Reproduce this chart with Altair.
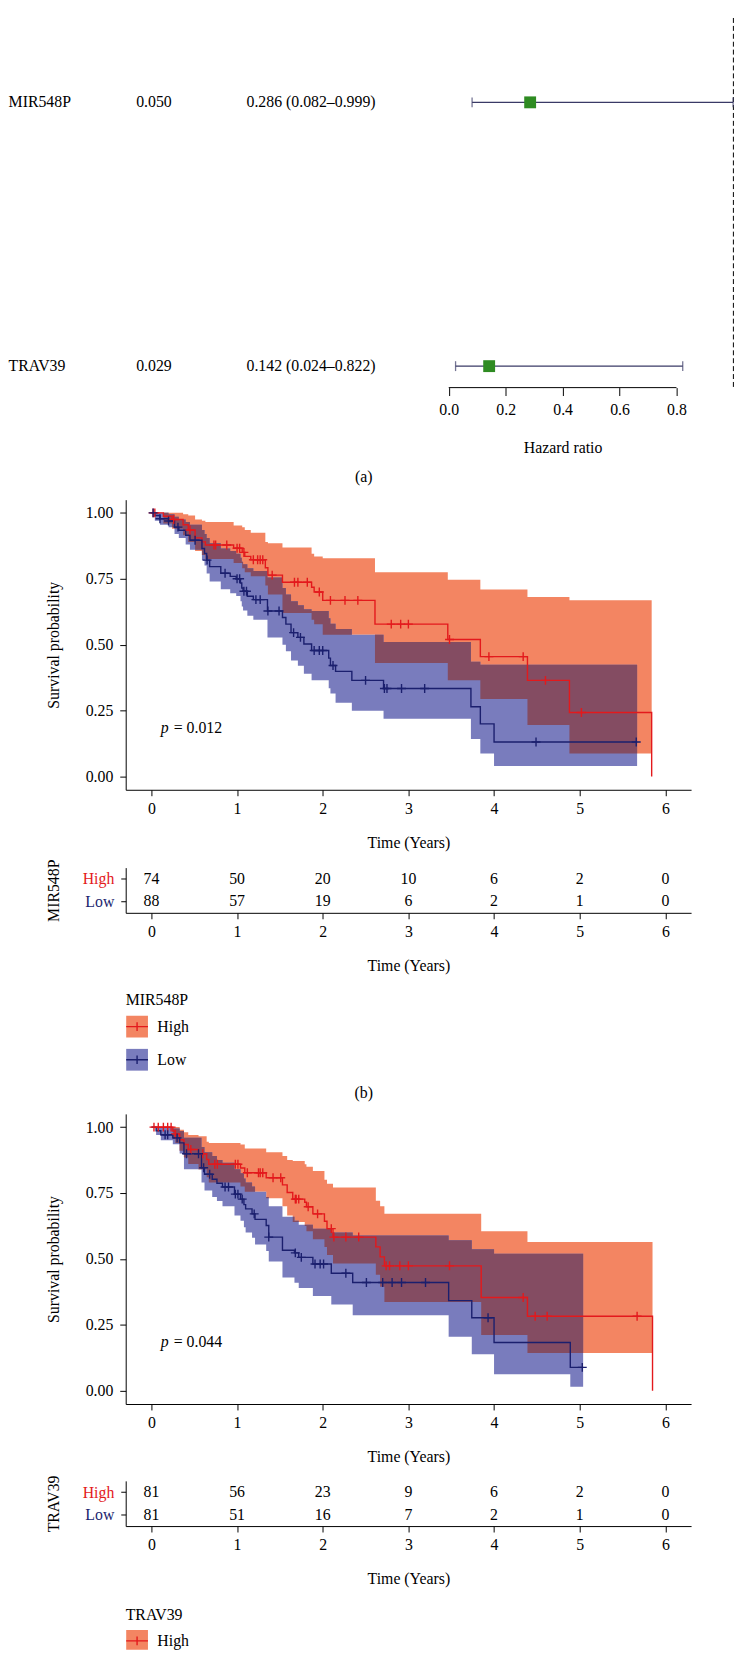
import altair as alt
import pandas as pd

FONT = "Liberation Serif"
RED = "#E3191C"
NAVY = "#1B1F6E"
ORANGE = "#F38562"
BLUE = "#797CBD"
MAROON = "#844C62"
GREEN = "#2E8B22"
CI_LINE = "#3A3A66"
CROSS = "M-1,0L1,0M0,-1L0,1"
KEY = "M-1,0L1,0M0,-0.4L0,0.4"

# ---------------- forest plot data ----------------
genes = ["MIR548P", "TRAV39"]
rows = [0, 1]
pvals = ["0.050", "0.029"]
hr = [0.286, 0.142]
hr_lo = [0.082, 0.024]
hr_hi = [0.999, 0.822]
hr_text = ["0.286 (0.082\u20130.999)", "0.142 (0.024\u20130.822)"]
hr_ticks = [0.0, 0.2, 0.4, 0.6, 0.8]
ref_line = [1.0]

# ---------------- KM data: MIR548P ----------------
b_high_t = [0, 0.14, 0.24, 0.37, 0.43, 0.51, 0.59, 0.63, 0.96, 1.06, 1.09, 1.16, 1.33, 1.36, 1.53, 1.87, 1.90, 2.00, 2.61, 3.46, 3.84, 4.39, 4.88, 5.84]
b_high_s = [1.0, 0.987, 0.975, 0.955, 0.935, 0.905, 0.890, 0.878, 0.866, 0.850, 0.835, 0.822, 0.792, 0.764, 0.737, 0.718, 0.700, 0.668, 0.578, 0.520, 0.455, 0.365, 0.243, 0.0]
b_high_hi = [1.0, 1.0, 1.0, 0.995, 0.99, 0.975, 0.97, 0.965, 0.952, 0.945, 0.935, 0.925, 0.89, 0.885, 0.869, 0.845, 0.835, 0.828, 0.775, 0.746, 0.709, 0.681, 0.669, 0.669]
b_high_lo = [1.0, 0.96, 0.94, 0.915, 0.89, 0.855, 0.84, 0.825, 0.81, 0.79, 0.775, 0.76, 0.725, 0.69, 0.62, 0.595, 0.578, 0.538, 0.431, 0.365, 0.294, 0.196, 0.088, 0.088]

b_low_t = [0, 0.04, 0.10, 0.20, 0.27, 0.32, 0.40, 0.45, 0.59, 0.62, 0.645, 0.68, 0.81, 0.92, 0.99, 1.04, 1.055, 1.07, 1.12, 1.19, 1.355, 1.53, 1.57, 1.63, 1.71, 1.78, 1.87, 2.07, 2.09, 2.15, 2.34, 2.71, 3.73, 3.84, 4.00, 5.67]
b_low_s = [1.0, 0.99, 0.9775, 0.969, 0.946, 0.934, 0.915, 0.896, 0.865, 0.846, 0.821, 0.796, 0.771, 0.759, 0.750, 0.734, 0.715, 0.703, 0.684, 0.671, 0.628, 0.603, 0.578, 0.546, 0.528, 0.503, 0.478, 0.449, 0.421, 0.399, 0.365, 0.334, 0.265, 0.200, 0.131, 0.131]
b_low_hi = [1.0, 1.0, 1.0, 0.995, 0.985, 0.975, 0.965, 0.955, 0.935, 0.92, 0.905, 0.885, 0.865, 0.855, 0.845, 0.83, 0.815, 0.805, 0.79, 0.78, 0.755, 0.715, 0.69, 0.665, 0.65, 0.635, 0.6275, 0.60, 0.58, 0.56, 0.5375, 0.51, 0.435, 0.424, 0.424, 0.424]
b_low_lo = [1.0, 0.97, 0.955, 0.945, 0.92, 0.905, 0.88, 0.86, 0.82, 0.80, 0.77, 0.74, 0.71, 0.695, 0.685, 0.665, 0.645, 0.63, 0.61, 0.595, 0.5275, 0.50, 0.475, 0.44, 0.42, 0.39, 0.365, 0.335, 0.315, 0.28, 0.25, 0.219, 0.1425, 0.0875, 0.04, 0.04]

b_cens_high_t = [0.02, 0.04, 0.26, 0.45, 0.73, 0.75, 0.88, 1.00, 1.03, 1.08, 1.19, 1.24, 1.27, 1.30, 1.41, 1.67, 1.71, 1.82, 1.96, 2.09, 2.26, 2.41, 2.80, 2.91, 3.00, 3.48, 3.94, 4.34, 4.60, 5.02]
b_cens_high_s = [1.0, 1.0, 0.975, 0.935, 0.878, 0.878, 0.878, 0.866, 0.866, 0.850, 0.822, 0.822, 0.822, 0.822, 0.764, 0.737, 0.737, 0.737, 0.700, 0.668, 0.668, 0.668, 0.578, 0.578, 0.578, 0.520, 0.455, 0.455, 0.365, 0.243]
b_cens_low_t = [0.02, 0.10, 0.20, 0.31, 0.51, 0.65, 0.86, 1.00, 1.03, 1.08, 1.11, 1.22, 1.27, 1.36, 1.49, 1.66, 1.74, 1.90, 1.96, 2.00, 2.12, 2.50, 2.72, 2.75, 2.92, 3.19, 4.49, 5.66]
b_cens_low_s = [1.0, 0.9775, 0.969, 0.946, 0.896, 0.821, 0.771, 0.750, 0.750, 0.703, 0.703, 0.671, 0.671, 0.628, 0.628, 0.546, 0.528, 0.478, 0.478, 0.478, 0.421, 0.365, 0.334, 0.334, 0.334, 0.334, 0.131, 0.131]

# ---------------- KM data: TRAV39 ----------------
c_high_t = [0, 0.25, 0.28, 0.33, 0.38, 0.43, 0.55, 0.645, 0.67, 1.04, 1.09, 1.34, 1.53, 1.585, 1.65, 1.79, 1.81, 1.885, 2.02, 2.05, 2.12, 2.62, 2.67, 2.72, 3.85, 4.39, 5.85]
c_high_s = [1.0, 0.985, 0.974, 0.952, 0.934, 0.915, 0.899, 0.877, 0.859, 0.845, 0.827, 0.808, 0.781, 0.752, 0.727, 0.715, 0.698, 0.671, 0.643, 0.615, 0.583, 0.546, 0.508, 0.474, 0.354, 0.283, 0.0]
c_high_hi = [1.0, 1.0, 1.0, 0.99, 0.98, 0.97, 0.965, 0.944, 0.94, 0.934, 0.919, 0.905, 0.89, 0.875, 0.871, 0.859, 0.85, 0.834, 0.80, 0.785, 0.771, 0.721, 0.70, 0.671, 0.605, 0.564, 0.564]
c_high_lo = [1.0, 0.955, 0.94, 0.91, 0.885, 0.86, 0.84, 0.81, 0.79, 0.775, 0.755, 0.73, 0.70, 0.665, 0.64, 0.625, 0.605, 0.575, 0.545, 0.515, 0.483, 0.44, 0.395, 0.337, 0.212, 0.143, 0.143]

c_low_t = [0, 0.055, 0.11, 0.25, 0.33, 0.38, 0.585, 0.62, 0.71, 0.765, 0.83, 0.97, 1.04, 1.08, 1.10, 1.175, 1.21, 1.34, 1.37, 1.53, 1.67, 1.72, 1.885, 2.10, 2.35, 3.47, 3.74, 4.00, 4.89, 5.04]
c_low_s = [1.0, 0.986, 0.971, 0.959, 0.940, 0.899, 0.846, 0.821, 0.802, 0.787, 0.773, 0.746, 0.727, 0.706, 0.690, 0.671, 0.650, 0.627, 0.583, 0.533, 0.523, 0.506, 0.481, 0.446, 0.411, 0.342, 0.277, 0.183, 0.089, 0.089]
c_low_hi = [1.0, 1.0, 1.0, 0.995, 0.985, 0.96, 0.925, 0.905, 0.89, 0.875, 0.865, 0.84, 0.825, 0.805, 0.79, 0.775, 0.755, 0.735, 0.70, 0.66, 0.645, 0.63, 0.615, 0.60, 0.589, 0.571, 0.537, 0.52, 0.52, 0.52]
c_low_lo = [1.0, 0.97, 0.95, 0.935, 0.90, 0.84, 0.79, 0.76, 0.735, 0.72, 0.70, 0.665, 0.645, 0.62, 0.60, 0.58, 0.555, 0.53, 0.49, 0.43, 0.41, 0.39, 0.36, 0.327, 0.287, 0.205, 0.139, 0.063, 0.015, 0.015]

c_cens_high_t = [0.03, 0.08, 0.14, 0.19, 0.23, 0.28, 0.46, 0.60, 0.74, 0.77, 0.98, 1.01, 1.12, 1.25, 1.27, 1.30, 1.42, 1.51, 1.68, 1.69, 1.72, 1.83, 1.94, 2.10, 2.13, 2.27, 2.42, 2.74, 2.78, 2.90, 3.00, 3.48, 4.34, 4.48, 4.62, 5.67]
c_cens_high_s = [1.0, 1.0, 1.0, 1.0, 1.0, 0.974, 0.915, 0.899, 0.859, 0.859, 0.859, 0.859, 0.827, 0.827, 0.827, 0.827, 0.808, 0.808, 0.727, 0.727, 0.727, 0.698, 0.671, 0.615, 0.583, 0.583, 0.583, 0.474, 0.474, 0.474, 0.474, 0.474, 0.354, 0.283, 0.283, 0.283]
c_cens_low_t = [0.16, 0.19, 0.30, 0.41, 0.55, 0.61, 0.68, 0.86, 0.90, 0.98, 1.01, 1.06, 1.20, 1.37, 1.68, 1.75, 1.91, 1.97, 2.01, 2.27, 2.51, 2.70, 2.81, 2.92, 3.20, 3.93, 5.03]
c_cens_low_s = [0.971, 0.971, 0.959, 0.899, 0.899, 0.846, 0.821, 0.773, 0.773, 0.746, 0.746, 0.727, 0.671, 0.583, 0.523, 0.506, 0.481, 0.481, 0.481, 0.446, 0.411, 0.411, 0.411, 0.411, 0.411, 0.277, 0.089]

# ---------------- risk tables ----------------
risk_t = [0, 1, 2, 3, 4, 5, 6]
b_risk_high = [74, 50, 20, 10, 6, 2, 0]
b_risk_low = [88, 57, 19, 6, 2, 1, 0]
c_risk_high = [81, 56, 23, 9, 6, 2, 0]
c_risk_low = [81, 51, 16, 7, 2, 1, 0]

groups = ["High", "Low"]
surv_ticks = [0.0, 0.25, 0.5, 0.75, 1.0]
pval_pos = [0.11, 0.185]

# ---------------- layout ----------------
KM_W = 571.6
KM_H = 293.3
RISK_H = 45.7
FOREST_W = 615
FOREST_H = 373.7
TITLE_X = -72.9

line_scale = alt.Scale(domain=groups, range=[RED, NAVY])
fill_scale = alt.Scale(domain=groups, range=[ORANGE, BLUE])


def step_at(ts, vs, g):
    v = vs[0]
    for t, val in zip(ts, vs):
        if t <= g:
            v = val
        else:
            break
    return v


def overlap_band(ht, hlo, hhi, lt, llo, lhi):
    end = min(ht[-1], lt[-1])
    grid = sorted(set([t for t in ht + lt if t <= end] + [end]))
    out_lo, out_hi = [], []
    for g in grid:
        lo = max(step_at(ht, hlo, g), step_at(lt, llo, g))
        hi = min(step_at(ht, hhi, g), step_at(lt, lhi, g))
        if hi < lo:
            hi = lo
        out_lo.append(lo)
        out_hi.append(hi)
    return pd.DataFrame({"t": grid, "lo": out_lo, "hi": out_hi})


def forest_chart():
    xs = alt.Scale(domain=[-1.1348, 1.0021], nice=False, zero=False)
    xa = alt.Axis(values=hr_ticks, format=".1f", domain=False, tickSize=8, labelPadding=6,
                  labelFlush=False, title="Hazard ratio", titleX=441.7, titleY=60.3,
                  titleBaseline="middle")
    ys = alt.Scale(domain=[-0.3198, 1.0814], nice=False, zero=False, reverse=True)

    def X(f):
        return alt.X(f, type="quantitative", scale=xs, axis=xa)

    def Y():
        return alt.Y("row:Q", scale=ys, axis=None)

    df = pd.DataFrame({"gene": genes, "row": rows, "p": pvals, "hr": hr,
                       "lo": hr_lo, "hi": hr_hi, "txt": hr_text})
    df_caps = pd.DataFrame({"v": hr_lo + hr_hi, "row": rows + rows})
    df_ref = pd.DataFrame({"hr": ref_line})
    df_ax = pd.DataFrame({"a": [min(hr_ticks)], "b": [max(hr_ticks)]})

    ref = alt.Chart(df_ref).mark_rule(color="black", strokeDash=[5, 3], strokeWidth=1).encode(
        x=X("hr"), y=alt.value(0), y2=alt.value(FOREST_H))
    axline = alt.Chart(df_ax).mark_rule(color="black", strokeWidth=1).encode(
        x=X("a"), x2="b:Q", y=alt.value(FOREST_H))
    ci = alt.Chart(df).mark_rule(color=CI_LINE, strokeWidth=1.3).encode(
        x=X("lo"), x2="hi:Q", y=Y())
    caps = alt.Chart(df_caps).mark_tick(orient="vertical", size=10, thickness=1.3, color=CI_LINE).encode(
        x=X("v"), y=Y())
    sq = alt.Chart(df).mark_square(size=144, color=GREEN, opacity=1, filled=True).encode(
        x=X("hr"), y=Y())
    t_gene = alt.Chart(df).mark_text(align="left", baseline="middle").encode(
        x=alt.value(-118.4), y=Y(), text="gene:N")
    t_p = alt.Chart(df).mark_text(align="left", baseline="middle").encode(
        x=alt.value(10.6), y=Y(), text="p:N")
    t_hr = alt.Chart(df).mark_text(align="left", baseline="middle").encode(
        x=alt.value(122.1), y=Y(), text="txt:N")
    return alt.layer(ref, axline, ci, caps, sq, t_gene, t_p, t_hr).properties(
        width=FOREST_W, height=FOREST_H)


def time_x(field):
    return alt.X(field, type="quantitative",
                 scale=alt.Scale(domain=[-0.3, 6.3], nice=False, zero=False),
                 axis=alt.Axis(values=risk_t, title="Time (Years)", titleX=KM_W / 2, titleY=53.5,
                               titleBaseline="middle", tickSize=6, labelPadding=5, labelFlush=False))


def surv_y(field):
    return alt.Y(field, type="quantitative",
                 scale=alt.Scale(domain=[-0.05, 1.05], nice=False, zero=False),
                 axis=alt.Axis(values=surv_ticks, format=".2f", title="Survival probability",
                               titleX=TITLE_X, titleY=KM_H / 2, titleBaseline="middle",
                               tickSize=6, labelPadding=7, labelFlush=False))


def km_chart(ht, hs, hlo, hhi, lt, ls, llo, lhi, cht, chs, clt, cls, ptxt):
    df_h = pd.DataFrame({"t": ht, "s": hs, "lo": hlo, "hi": hhi, "group": "High"})
    df_l = pd.DataFrame({"t": lt, "s": ls, "lo": llo, "hi": lhi, "group": "Low"})
    df_o = overlap_band(ht, hlo, hhi, lt, llo, lhi)
    df_lines = pd.concat([df_h, df_l], ignore_index=True)
    df_c = pd.concat([pd.DataFrame({"t": cht, "s": chs, "group": "High"}),
                      pd.DataFrame({"t": clt, "s": cls, "group": "Low"})], ignore_index=True)
    df_p = pd.DataFrame({"t": [pval_pos[0]], "y": [pval_pos[1]], "p": ["p"], "rest": ["= " + ptxt]})

    a_h = alt.Chart(df_h).mark_area(interpolate="step-after", color=ORANGE, opacity=1).encode(
        x=time_x("t"), y=surv_y("lo"), y2="hi:Q")
    a_l = alt.Chart(df_l).mark_area(interpolate="step-after", color=BLUE, opacity=1).encode(
        x=time_x("t"), y=surv_y("lo"), y2="hi:Q")
    a_o = alt.Chart(df_o).mark_area(interpolate="step-after", color=MAROON, opacity=1).encode(
        x=time_x("t"), y=surv_y("lo"), y2="hi:Q")
    lines = alt.Chart(df_lines).mark_line(interpolate="step-after", strokeWidth=1.4).encode(
        x=time_x("t"), y=surv_y("s"),
        stroke=alt.Stroke("group:N", scale=line_scale, legend=None))
    cens = alt.Chart(df_c).mark_point(shape=CROSS, size=81, filled=False, strokeWidth=1.4, opacity=1).encode(
        x=time_x("t"), y=surv_y("s"),
        stroke=alt.Stroke("group:N", scale=line_scale, legend=None))
    p1 = alt.Chart(df_p).mark_text(align="left", baseline="middle", fontStyle="italic").encode(
        x=time_x("t"), y=surv_y("y"), text="p:N")
    p2 = alt.Chart(df_p).mark_text(align="left", baseline="middle", dx=13).encode(
        x=time_x("t"), y=surv_y("y"), text="rest:N")
    return alt.layer(a_h, a_l, a_o, lines, cens, p1, p2).properties(width=KM_W, height=KM_H)


def risk_chart(gene, n_high, n_low):
    df = pd.DataFrame({"t": risk_t + risk_t, "n": n_high + n_low,
                       "group": ["High"] * len(risk_t) + ["Low"] * len(risk_t)})
    return alt.Chart(df).mark_text(baseline="middle").encode(
        x=time_x("t"),
        y=alt.Y("group:N", scale=alt.Scale(domain=groups),
                axis=alt.Axis(title=gene, titleX=TITLE_X, titleY=RISK_H / 2, titleBaseline="middle",
                              tickSize=5, labelPadding=7,
                              labelColor=alt.ExprRef(expr="datum.value === 'High' ? '%s' : '%s'" % (RED, NAVY)))),
        text="n:Q").properties(width=KM_W, height=RISK_H)


def legend_chart(gene, height, visible_rows):
    df = pd.DataFrame({"group": groups, "idx": [0, 1]})
    clip = visible_rows < len(groups)
    ys = alt.Scale(domain=[-0.5, -0.5 + height / 33.5], nice=False, zero=False, reverse=True)
    Y = alt.Y("idx:Q", scale=ys, axis=None)
    box = alt.Chart(df).mark_square(size=484, opacity=1, filled=True, clip=clip).encode(
        x=alt.value(11.5), y=Y, fill=alt.Fill("group:N", scale=fill_scale, legend=None))
    key = alt.Chart(df).mark_point(shape=KEY, size=484, filled=False, strokeWidth=1.4, opacity=1, clip=clip).encode(
        x=alt.value(11.5), y=Y, stroke=alt.Stroke("group:N", scale=line_scale, legend=None))
    lab = alt.Chart(df.iloc[:visible_rows]).mark_text(align="left", baseline="middle").encode(
        x=alt.value(32), y=Y, text="group:N")
    ttl = alt.Chart(pd.DataFrame({"title": [gene]})).mark_text(align="left", baseline="middle").encode(
        x=alt.value(0), y=alt.value(-9.7), text="title:N")
    return alt.layer(box, key, lab, ttl).properties(width=120, height=height)


def caption(label, height, ty):
    return alt.Chart(pd.DataFrame({"c": [label]})).mark_text(align="center", baseline="middle").encode(
        x=alt.value(240.6), y=alt.value(ty), text="c:N").properties(width=10, height=height)


chart = alt.vconcat(
    forest_chart(),
    caption("(a)", 112.7, 90.3),
    km_chart(b_high_t, b_high_s, b_high_lo, b_high_hi, b_low_t, b_low_s, b_low_lo, b_low_hi,
             b_cens_high_t, b_cens_high_s, b_cens_low_t, b_cens_low_s, "0.012"),
    caption("", 77.3, 0),
    risk_chart("MIR548P", b_risk_high, b_risk_low),
    caption("", 97.05, 0),
    legend_chart("MIR548P", 67, 2),
    caption("(b)", 37.65, 17.25),
    km_chart(c_high_t, c_high_s, c_high_lo, c_high_hi, c_low_t, c_low_s, c_low_lo, c_low_hi,
             c_cens_high_t, c_cens_high_s, c_cens_low_t, c_cens_low_s, "0.044"),
    caption("", 76.8, 0),
    risk_chart("TRAV39", c_risk_high, c_risk_low),
    caption("", 98.05, 0),
    legend_chart("TRAV39", 25.75, 1),
    spacing=0, bounds="flush", padding=0,
).configure_view(stroke=None).configure_axis(
    labelFont=FONT, titleFont=FONT, labelFontSize=16, titleFontSize=16, titleFontWeight="normal",
    labelColor="black", titleColor="black", domainColor="black", tickColor="black",
    grid=False, domainWidth=1, tickWidth=1,
).configure_text(font=FONT, fontSize=16, color="black").configure_concat(spacing=0)

chart.save("out.html", embed_options={"renderer": "svg", "actions": False})
